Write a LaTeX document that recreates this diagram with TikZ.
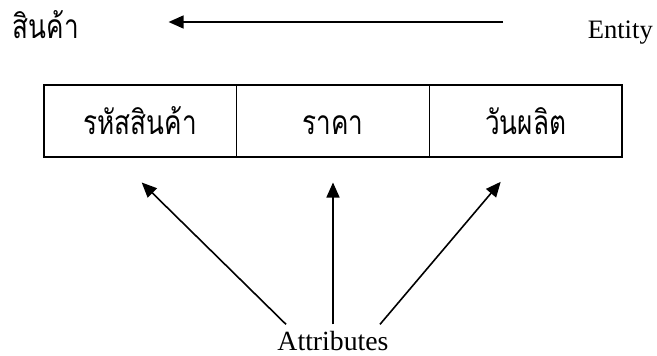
\documentclass[tikz,border=0pt]{standalone}
\usepackage{fontspec}
\setmainfont{Liberation Serif}
\newfontfamily\thaifont[Script=Thai]{Loma}
\usetikzlibrary{arrows.meta,calc}
\newlength\thaiwd
\newlength\thaiht
\AtBeginDocument{%
  \settowidth\thaiwd{\thaifont\fontsize{20}{24}\selectfont สินค้า}%
  \settoheight\thaiht{\thaifont\fontsize{20}{24}\selectfont สินค้า}%
  \edef\thaisx{\fpeval{66pt/\thaiwd}}%
  \edef\thaisy{\fpeval{28pt/\thaiht}}}
\newcommand{\thaitext}[1]{\scalebox{\thaisx}[\thaisy]{\thaifont\fontsize{20}{24}\selectfont #1}}

\begin{document}
\begin{tikzpicture}[x=1pt, y=-1pt, line width=1.6pt,
    cell/.style={draw, rectangle, inner sep=0pt, minimum width=192.7pt, minimum height=72pt,
                 text height=30pt, text depth=2pt},
    word/.style={inner sep=0pt},
    arr/.style={-{Triangle[length=15pt, width=13pt]}}]
    \useasboundingbox (0,0) rectangle (657,356);

    % top line
    \node[word, anchor=base west] (entity) at (587,38) {\resizebox{65pt}{!}{Entity}};
    \node[word, anchor=base west] (product) at (12,38) {\thaitext{สินค้า}};
    \draw[arr] ([shift={(-84,-16)}]entity.base west) -- ([shift={(89,-16)}]product.base east);

    % record
    \node[cell] (code) at (140.3,121) {\thaitext{รหัสสินค้า}};
    \node[cell] (price) at (333,121) {\thaitext{ราคา}};
    \node[cell] (made) at (525.7,121) {\thaitext{วันผลิต}};

    % attributes
    \node[word, anchor=base, inner sep=5.6pt] (attr) at (333,350) {\resizebox{111pt}{!}{Attributes}};
    \draw[arr] ($(attr.north)+(-47,0)$) -- ($(code.south)+(1.4,24.7)$);
    \draw[arr] (attr.north) -- ($(price.south)+(0,24.7)$);
    \draw[arr] ($(attr.north)+(47,0)$) -- ($(made.south)+(-25,24)$);
\end{tikzpicture}
\end{document}
